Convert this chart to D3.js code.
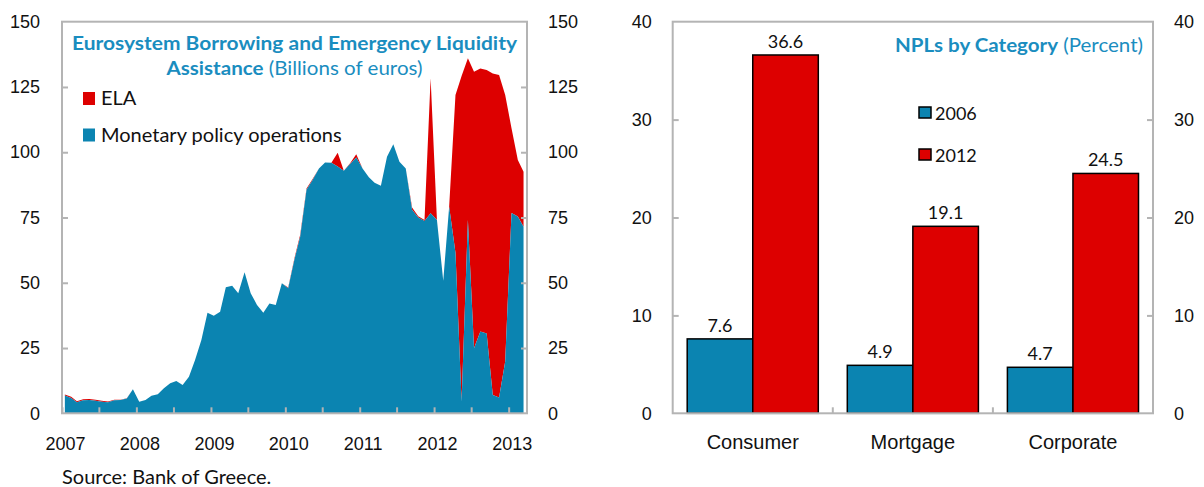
<!DOCTYPE html>
<html>
<head>
<meta charset="utf-8">
<script src="https://cdn.jsdelivr.net/npm/d3@7"></script>
<style>
  body { margin: 0; background: #fff; }
  svg { display: block; font-family: Lato, "Open Sans", sans-serif; }
  .tick text { font-size: 18px; fill: #111; }
</style>
</head>
<body>
<svg id="chart" width="1204" height="487"></svg>
<script>
// left panel: Eurosystem borrowing, billions of euros, monthly Jan 2007 - Mar 2013
var mpo = [6.8, 5.9, 4.2, 5.0, 5.1, 4.8, 4.4, 4.2, 5.0, 5.1, 5.7, 9.2,
           4.4, 5.1, 6.7, 7.3, 9.6, 11.5, 12.4, 10.8, 14.0, 20.4, 28.1, 38.5,
           37.4, 38.9, 48.3, 48.9, 46.0, 54.0, 46.0, 41.5, 38.5, 42.1, 41.5, 49.8,
           47.9, 59.0, 67.6, 85.6, 89.4, 93.8, 96.1, 96.0, 94.5, 92.9, 95.5, 98.0,
           93.8, 90.4, 88.3, 87.2, 98.3, 103.1, 96.4, 93.8, 78.0, 75.0, 73.7, 76.6,
           74.0, 50.8, 79.1, 61.5, 4.5, 74.0, 24.9, 31.3, 30.6, 7.0, 6.1, 19.8,
           76.7, 75.4, 71.5];
var ela = [0.4, 0.4, 0.4, 0.4, 0.4, 0.4, 0.4, 0.3, 0.2, 0.1, 0.1, 0,
           0, 0, 0, 0, 0, 0, 0, 0, 0, 0, 0, 0,
           0, 0, 0, 0, 0, 0, 0, 0, 0, 0, 0, 0,
           0.3, 0.5, 0.8, 0.5, 0.3, 0, 0, 0, 5.3, 0, 0.3, 1.2,
           0, 0, 0, 0, 0, 0, 0, 0, 0.8, 0.5, 0.3, 51.7,
           0, 0, 0, 60.4, 124.7, 62.0, 105.9, 100.8, 100.9, 123.2, 123.5, 102.1,
           32.5, 21.6, 21.0];
var leftTicks = [0, 25, 50, 75, 100, 125, 150];

// right panel: NPLs by category, percent
var categories = ["Consumer", "Mortgage", "Corporate"];
var years = ["2006", "2012"];
var npl2006 = [7.6, 4.9, 4.7];
var npl2012 = [36.6, 19.1, 24.5];
var rightTicks = [0, 10, 20, 30, 40];

var blue = "#0b84b1", red = "#dd0000", titleColor = "#1a8dbf", frameColor = "#b4b4b4";

var svg = d3.select("#chart");

// ---------- left chart ----------
(function() {
  var left = 62, right = 527, top = 21.7, bottom = 413.3;
  var months = d3.timeMonth.range(new Date(2007, 0, 1), new Date(2013, 3, 1));
  var rows = months.map(function(m, i) {
    return { date: d3.timeDay.offset(m, 14), mpo: mpo[i], ela: ela[i] };
  });

  var x = d3.scaleTime().domain([new Date(2007, 0, 1), new Date(2013, 3, 1)]).range([left, right]);
  var y = d3.scaleLinear().domain([0, 150]).range([bottom, top]);

  var series = d3.stack().keys(["mpo", "ela"])(rows);
  var area = d3.area()
    .x(function(d) { return x(d.data.date); })
    .y0(function(d) { return y(d[0]); })
    .y1(function(d) { return y(d[1]); });

  var g = svg.append("g");
  g.selectAll("path.layer")
    .data(series.slice().reverse())
    .enter().append("path")
    .attr("class", "layer")
    .attr("fill", function(d) { return d.key === "ela" ? red : blue; })
    .attr("d", area);

  var yl = g.append("g").attr("transform", "translate(" + left + ",0)")
    .call(d3.axisLeft(y).tickValues(leftTicks).tickSize(-6).tickPadding(22));
  var yr = g.append("g").attr("transform", "translate(" + right + ",0)")
    .call(d3.axisRight(y).tickValues(leftTicks).tickSize(-6).tickPadding(21));
  var xa = g.append("g").attr("transform", "translate(0," + bottom + ")")
    .call(d3.axisBottom(x).ticks(d3.timeMonth.every(6)).tickSize(-6).tickPadding(24)
      .tickFormat(function(d) { return d.getMonth() === 0 ? d.getFullYear() : ""; }));
  xa.selectAll("text").attr("dx", 3);
  [yl, yr, xa].forEach(function(a) {
    a.select(".domain").remove();
    a.selectAll(".tick line").attr("stroke", frameColor).attr("stroke-width", 2);
    a.selectAll(".tick").filter(function(d) { return +d === 0 || +d === 150; }).select("line").remove();
  });

  g.append("rect")
    .attr("x", left).attr("y", top)
    .attr("width", right - left).attr("height", bottom - top)
    .attr("fill", "none").attr("stroke", frameColor).attr("stroke-width", 2);

  var title = g.append("text").attr("x", (left + right) / 2).attr("y", 50)
    .attr("text-anchor", "middle").attr("fill", titleColor)
    .style("font-size", "19px").style("font-weight", "bold")
    .attr("textLength", 445).attr("lengthAdjust", "spacingAndGlyphs")
    .text("Eurosystem Borrowing and Emergency Liquidity");
  var t2 = g.append("text").attr("x", (left + right) / 2).attr("y", 75)
    .attr("text-anchor", "middle").attr("fill", titleColor).style("font-size", "19px")
    .attr("textLength", 256).attr("lengthAdjust", "spacingAndGlyphs");
  t2.append("tspan").style("font-weight", "bold").text("Assistance");
  t2.append("tspan").text(" (Billions of euros)");

  var legend = [{ name: "ELA", color: red, y: 105 }, { name: "Monetary policy operations", color: blue, y: 141.5 }];
  var lg = g.selectAll(".lg").data(legend).enter().append("g").attr("class", "lg");
  lg.append("rect").attr("x", 83).attr("y", function(d) { return d.y - 13; })
    .attr("width", 12).attr("height", 13).attr("fill", function(d) { return d.color; });
  lg.append("text").attr("x", 101).attr("y", function(d) { return d.y; })
    .style("font-size", "20px").attr("fill", "#111").text(function(d) { return d.name; });

  g.append("text").attr("x", 62).attr("y", 484).style("font-size", "20px").attr("fill", "#111")
    .text("Source: Bank of Greece.");
})();

// ---------- right chart ----------
(function() {
  var left = 672.7, right = 1153, top = 21.7, bottom = 413.3;
  var x = d3.scaleBand().domain(categories).range([left, right]);
  var inner = d3.scaleBand().domain(years).range([14.5, x.bandwidth() - 14.5]);
  var y = d3.scaleLinear().domain([0, 40]).range([bottom, top]);

  var g = svg.append("g");
  var data = categories.map(function(c, i) {
    return { cat: c, vals: [{ year: "2006", v: npl2006[i] }, { year: "2012", v: npl2012[i] }] };
  });
  var grp = g.selectAll(".cat").data(data).enter().append("g")
    .attr("transform", function(d) { return "translate(" + x(d.cat) + ",0)"; });
  grp.selectAll("rect").data(function(d) { return d.vals; }).enter().append("rect")
    .attr("x", function(d) { return inner(d.year); })
    .attr("y", function(d) { return y(d.v); })
    .attr("width", inner.bandwidth())
    .attr("height", function(d) { return bottom - y(d.v); })
    .attr("fill", function(d) { return d.year === "2006" ? blue : red; })
    .attr("stroke", "#000").attr("stroke-width", 1.5);
  grp.selectAll("text.val").data(function(d) { return d.vals; }).enter().append("text")
    .attr("class", "val")
    .attr("x", function(d) { return inner(d.year) + inner.bandwidth() / 2; })
    .attr("y", function(d) { return y(d.v) - 7; })
    .attr("text-anchor", "middle").style("font-size", "18px").attr("fill", "#111")
    .text(function(d) { return d3.format(".1f")(d.v); });

  var yl = g.append("g").attr("transform", "translate(" + left + ",0)")
    .call(d3.axisLeft(y).tickValues(rightTicks).tickSize(-6).tickPadding(21));
  var yr = g.append("g").attr("transform", "translate(" + right + ",0)")
    .call(d3.axisRight(y).tickValues(rightTicks).tickSize(-6).tickPadding(21));
  var xa = g.append("g").attr("transform", "translate(0," + bottom + ")")
    .call(d3.axisBottom(x).tickSize(0).tickPadding(22));
  xa.selectAll("text").style("font-size", "20px");
  [yl, yr, xa].forEach(function(a) {
    a.select(".domain").remove();
    a.selectAll(".tick line").attr("stroke", frameColor).attr("stroke-width", 2);
    a.selectAll(".tick").filter(function(d) { return d === 0 || d === 40; }).select("line").remove();
  });
  // boundary ticks between categories
  g.selectAll(".btick").data(categories.slice(1)).enter().append("line")
    .attr("x1", function(d) { return x(d); }).attr("x2", function(d) { return x(d); })
    .attr("y1", bottom).attr("y2", bottom - 6)
    .attr("stroke", frameColor).attr("stroke-width", 2);

  g.append("rect")
    .attr("x", left).attr("y", top)
    .attr("width", right - left).attr("height", bottom - top)
    .attr("fill", "none").attr("stroke", frameColor).attr("stroke-width", 2);

  var t = g.append("text").attr("x", 1143).attr("y", 52).attr("text-anchor", "end")
    .attr("fill", titleColor).style("font-size", "19px")
    .attr("textLength", 248).attr("lengthAdjust", "spacingAndGlyphs");
  t.append("tspan").style("font-weight", "bold").text("NPLs by Category");
  t.append("tspan").text(" (Percent)");

  var lg = g.selectAll(".lg").data(years).enter().append("g").attr("class", "lg");
  lg.append("rect").attr("x", 919)
    .attr("y", function(d, i) { return 107 + i * 42; })
    .attr("width", 12).attr("height", 11)
    .attr("fill", function(d) { return d === "2006" ? blue : red; })
    .attr("stroke", "#000").attr("stroke-width", 1.5);
  lg.append("text").attr("x", 935).attr("y", function(d, i) { return 120 + i * 42; })
    .style("font-size", "18px").attr("fill", "#111").text(function(d) { return d; });
})();
</script>
</body>
</html>
